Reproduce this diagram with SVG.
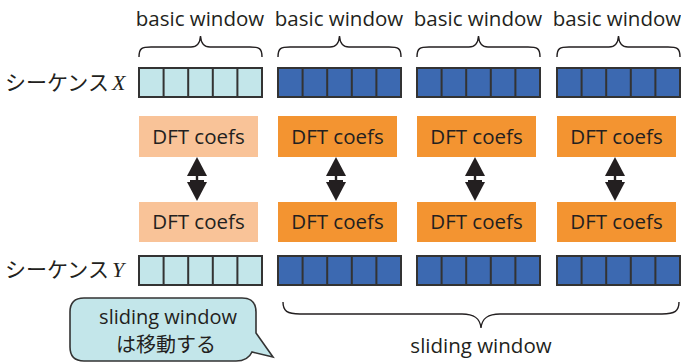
<svg xmlns="http://www.w3.org/2000/svg" width="681" height="363" viewBox="0 0 681 363">
  <style>
    .lbl { font-family: "Open Sans", "Noto Sans", "Liberation Sans", sans-serif; font-size: 20.5px; fill: #231f20; }
    .jp { font-family: "Noto Sans CJK JP", "Noto Sans", sans-serif; font-size: 21px; fill: #231f20; }
    .var { font-family: "Liberation Serif", serif; font-style: italic; font-size: 22px; fill: #231f20; }
    .brace { fill: none; stroke: #231f20; stroke-width: 1.4; }
    .cell-lt { fill: #c3e6ea; stroke: #333; stroke-width: 2; }
    .cell-dk { fill: #3c69b1; stroke: #333; stroke-width: 2; }
    .dft-lt { fill: #f9c398; }
    .dft-dk { fill: #f39431; }
    .arrow { fill: #231f20; }
    .bubble { fill: #c3e6ea; stroke: #333; stroke-width: 1.6; }
    .callout-txt { font-family: "Open Sans", "Noto Sans", "Liberation Sans", sans-serif; font-size: 20px; fill: #231f20; }
    .callout-jp { font-family: "Noto Sans CJK JP", "Noto Sans", sans-serif; font-size: 20px; fill: #231f20; }
  </style>
  <defs>
    <!-- five-cell window, light and dark -->
    <g id="cells-lt">
      <rect class="cell-lt" x="0" y="0" width="123" height="29"/>
      <path d="M24.6 0V29M49.2 0V29M73.8 0V29M98.4 0V29" stroke="#333" stroke-width="2"/>
    </g>
    <g id="cells-dk">
      <rect class="cell-dk" x="0" y="0" width="123" height="29"/>
      <path d="M24.6 0V29M49.2 0V29M73.8 0V29M98.4 0V29" stroke="#333" stroke-width="2"/>
    </g>
    <!-- curly brace over a window -->
    <path id="brace-top" class="brace" d="M0 23 C0 14 3 13 12 13 H52 C58 13 61 10 61.5 2 C62 10 65 13 71 13 H111 C120 13 123 14 123 23"/>
    <!-- double-headed arrow -->
    <g id="dbl-arrow">
      <polygon class="arrow" points="0,0 10,19 -10,19"/>
      <rect class="arrow" x="-1.2" y="18" width="2.4" height="8"/>
      <rect class="arrow" x="-7" y="23" width="14" height="2"/>
      <polygon class="arrow" points="-10,25 10,25 0,44"/>
    </g>
  </defs>

  <!-- basic window labels and braces -->
  <g id="basic-windows">
    <text class="lbl" x="200" y="26" text-anchor="middle">basic window</text>
    <text class="lbl" x="339" y="26" text-anchor="middle">basic window</text>
    <text class="lbl" x="478" y="26" text-anchor="middle">basic window</text>
    <text class="lbl" x="617" y="26" text-anchor="middle">basic window</text>
    <use href="#brace-top" x="139" y="34"/>
    <use href="#brace-top" x="278" y="34"/>
    <use href="#brace-top" x="417" y="34"/>
    <use href="#brace-top" x="557" y="34"/>
  </g>

  <!-- sequence X -->
  <g id="seq-x">
    <text class="jp" x="5" y="90">シーケンス<tspan class="var" dx="3">X</tspan></text>
    <use href="#cells-lt" x="139" y="68"/>
    <use href="#cells-dk" x="278" y="68"/>
    <use href="#cells-dk" x="417" y="68"/>
    <use href="#cells-dk" x="557" y="68"/>
  </g>

  <!-- DFT coefficients of X -->
  <g id="dft-x">
    <rect class="dft-lt" x="139" y="116" width="119" height="41"/>
    <rect class="dft-dk" x="278" y="116" width="119" height="41"/>
    <rect class="dft-dk" x="417" y="116" width="119" height="41"/>
    <rect class="dft-dk" x="557" y="116" width="119" height="41"/>
    <text class="lbl" x="198.5" y="143.5" text-anchor="middle">DFT coefs</text>
    <text class="lbl" x="337.5" y="143.5" text-anchor="middle">DFT coefs</text>
    <text class="lbl" x="476.5" y="143.5" text-anchor="middle">DFT coefs</text>
    <text class="lbl" x="616.5" y="143.5" text-anchor="middle">DFT coefs</text>
  </g>

  <!-- comparison arrows -->
  <g id="connectors">
    <use href="#dbl-arrow" x="197" y="157"/>
    <use href="#dbl-arrow" x="336" y="157"/>
    <use href="#dbl-arrow" x="475" y="157"/>
    <use href="#dbl-arrow" x="615" y="157"/>
  </g>

  <!-- DFT coefficients of Y -->
  <g id="dft-y">
    <rect class="dft-lt" x="139" y="202" width="119" height="40"/>
    <rect class="dft-dk" x="278" y="202" width="119" height="40"/>
    <rect class="dft-dk" x="417" y="202" width="119" height="40"/>
    <rect class="dft-dk" x="557" y="202" width="119" height="40"/>
    <text class="lbl" x="198.5" y="229" text-anchor="middle">DFT coefs</text>
    <text class="lbl" x="337.5" y="229" text-anchor="middle">DFT coefs</text>
    <text class="lbl" x="476.5" y="229" text-anchor="middle">DFT coefs</text>
    <text class="lbl" x="616.5" y="229" text-anchor="middle">DFT coefs</text>
  </g>

  <!-- sequence Y -->
  <g id="seq-y">
    <text class="jp" x="5" y="277">シーケンス<tspan class="var" dx="3">Y</tspan></text>
    <use href="#cells-lt" x="139" y="256"/>
    <use href="#cells-dk" x="278" y="256"/>
    <use href="#cells-dk" x="417" y="256"/>
    <use href="#cells-dk" x="557" y="256"/>
  </g>

  <!-- sliding window brace -->
  <g id="sliding-window">
    <path class="brace" d="M283 302 C283 311 287 314 300 314 H462 C474 314 480 318 481 328 C482 318 488 314 500 314 H662 C675 314 679 311 679 302"/>
    <text class="lbl" x="481" y="353" text-anchor="middle">sliding window</text>
  </g>

  <!-- callout -->
  <g id="callout">
    <path class="bubble" d="M84 298 H242 Q256 298 256 312 V333 L273 357 L252 352 Q248 361 236 361 H84 Q70 361 70 347 V312 Q70 298 84 298 Z"/>
    <text class="callout-txt" x="168" y="324" text-anchor="middle">sliding window</text>
    <text class="callout-jp" x="166" y="352" text-anchor="middle">は移動する</text>
  </g>
</svg>
